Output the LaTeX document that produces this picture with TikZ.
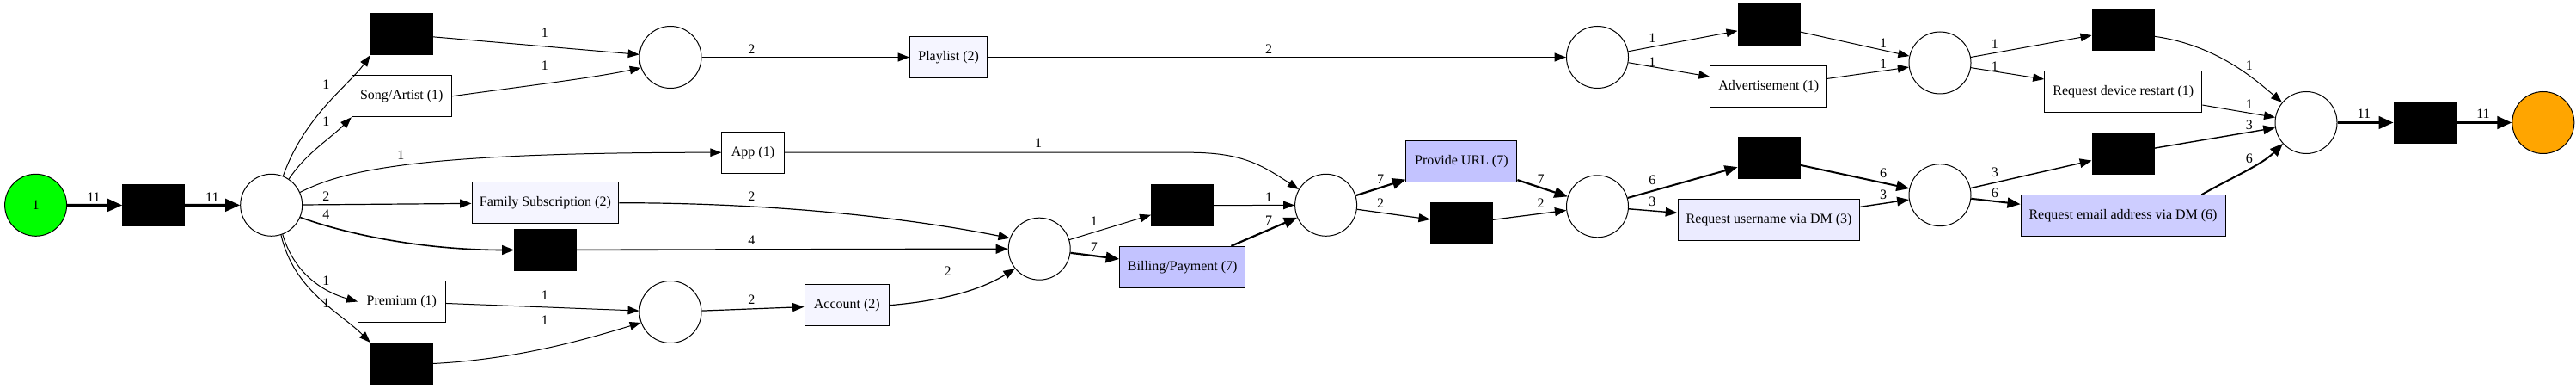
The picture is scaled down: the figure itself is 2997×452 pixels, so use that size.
\documentclass[tikz,border=0pt]{standalone}
\usepackage{fontspec}
\setmainfont{Liberation Serif}
\usetikzlibrary{arrows.meta}
\definecolor{srcgreen}{RGB}{0,255,0}
\definecolor{sinkorange}{RGB}{255,165,0}
\definecolor{fqtwo}{HTML}{F5F5FF}
\definecolor{fqthree}{HTML}{EBEBFF}
\definecolor{fqsix}{HTML}{CDCDFF}
\definecolor{fqseven}{HTML}{C3C3FF}
\begin{document}
\begin{tikzpicture}[x=1pt,y=1pt,font=\fontsize{16}{19}\selectfont,
  place/.style={circle,draw=black,line width=1pt,minimum size=72pt,inner sep=0pt},
  silent/.style={rectangle,draw=black,fill=black,line width=1pt,minimum width=72pt,minimum height=48pt,inner sep=0pt},
  act/.style={rectangle,draw=black,line width=1pt,minimum height=48pt,inner sep=0pt},
  lbl/.style={inner sep=0pt},
  flow/.style={-{Triangle[length=11pt 2,width=7pt 2.5]},line width=#1},
  flow/.default=1pt]
\useasboundingbox (0,0) rectangle (2997,452);

% places
\node[place,fill=srcgreen] (src) at (41.6,213.7) {1};
\node[place] (p1) at (315.7,213.7) {};
\node[place] (p2) at (780,385.5) {};
\node[place] (p3) at (780,89.5) {};
\node[place] (p4) at (1209.2,162.8) {};
\node[place] (p5) at (1542.6,213.7) {};
\node[place] (p6) at (1858.5,212.2) {};
\node[place] (ptop) at (1858.5,385.5) {};
\node[place] (p7) at (2257,379) {};
\node[place] (p8) at (2257,225.3) {};
\node[place] (p9) at (2683,309.5) {};
\node[place,fill=sinkorange] (sink) at (2958.8,309.5) {};

% silent transitions
\node[silent] (t0) at (178.7,213.5) {};
\node[silent] (ta) at (467.3,412.3) {};
\node[silent] (tb) at (634.7,161.5) {};
\node[silent] (tc) at (467.3,29.5) {};
\node[silent] (td) at (1375.6,213.3) {};
\node[silent] (te) at (1700.4,192) {};
\node[silent] (tf) at (2058,268) {};
\node[silent] (tg) at (2058,423) {};
\node[silent] (th) at (2470,417.5) {};
\node[silent] (ti) at (2470,273.7) {};
\node[silent] (tj) at (2821,309.5) {};

% visible transitions
\node[act,minimum width=115.8pt] (song) at (467.3,340.2) {Song/Artist (1)};
\node[act,minimum width=72.2pt] (app) at (876,274.8) {App (1)};
\node[act,minimum width=170.8pt,fill=fqtwo] (fam) at (634.4,216.3) {Family Subscription (2)};
\node[act,minimum width=101.4pt] (prem) at (467.3,101.5) {Premium (1)};
\node[act,minimum width=90.4pt,fill=fqtwo] (playlist) at (1103.7,385.5) {Playlist (2)};
\node[act,minimum width=98.6pt,fill=fqtwo] (account) at (985.3,97.3) {Account (2)};
\node[act,minimum width=146.4pt,fill=fqseven] (billing) at (1375.7,141.7) {Billing/Payment (7)};
\node[act,minimum width=129.1pt,fill=fqseven] (url) at (1700.4,264.2) {Provide URL (7)};
\node[act,minimum width=211.9pt,fill=fqthree] (username) at (2058,196) {Request username via DM (3)};
\node[act,minimum width=135.8pt] (advert) at (2057.7,351) {Advertisement (1)};
\node[act,minimum width=183.2pt] (restart) at (2470.3,345.5) {Request device restart (1)};
\node[act,minimum width=238pt,fill=fqsix] (email) at (2470,201.3) {Request email address via DM (6)};

% arcs
\draw[flow=3pt] (src) -- (t0);
\draw[flow=3pt] (t0) -- (p1);
\draw[flow] (p1.68) .. controls +(25,70) and +(-25,-35) .. (ta.south west);
\draw[flow] (p1.56) .. controls +(20,30) and +(-25,-25) .. (song.south west);
\draw[flow] (p1.24) .. controls +(50,25) and +(-360,0) .. (app.west);
\draw[flow=1.2pt] (p1) -- (fam);
\draw[flow=1.6pt] (p1.-23) .. controls +(70,-25) and +(-90,0) .. (tb.west);
\draw[flow] (p1.-69) .. controls +(15,-50) and +(-35,10) .. (prem.west);
\draw[flow] (p1.-72) .. controls +(15,-65) and +(-35,35) .. (tc.north west);
\draw[flow] (ta) -- (p2);
\draw[flow] (song.east) .. controls +(110,15) and +(-60,-12) .. (p2.200);
\draw[flow] (prem) -- (p3);
\draw[flow] (tc.east) .. controls +(100,5) and +(-60,-18) .. (p3.200);
\draw[flow=1.2pt] (p2) -- (playlist);
\draw[flow=1.2pt] (playlist) -- (ptop);
\draw[flow] (app.east) -- ++(470,0) .. controls +(60,0) and +(-45,30) .. (p5.150);
\draw[flow=1.2pt] (fam.east) .. controls +(200,0) and +(-100,20) .. (p4.160);
\draw[flow=1.6pt] (tb) -- (p4);
\draw[flow=1.2pt] (p3) -- (account);
\draw[flow=1.2pt] (account.east) .. controls +(60,5) and +(-40,-25) .. (p4.219);
\draw[flow] (p4) -- (td);
\draw[flow=2.2pt] (p4) -- (billing);
\draw[flow] (td) -- (p5);
\draw[flow=2.2pt] (billing) -- (p5);
\draw[flow=2.2pt] (p5) -- (url);
\draw[flow=1.2pt] (p5) -- (te);
\draw[flow=2.2pt] (url) -- (p6);
\draw[flow=1.2pt] (te) -- (p6);
\draw[flow] (ptop) -- (tg);
\draw[flow] (ptop) -- (advert);
\draw[flow] (tg) -- (p7);
\draw[flow] (advert) -- (p7);
\draw[flow=2pt] (p6) -- (tf);
\draw[flow=1.4pt] (p6) -- (username);
\draw[flow=2pt] (tf) -- (p8);
\draw[flow=1.4pt] (username) -- (p8);
\draw[flow] (p7) -- (th);
\draw[flow] (p7) -- (restart);
\draw[flow] (th.-12) .. controls +(70,-10) and +(-35,30) .. (p9.140);
\draw[flow] (restart) -- (p9);
\draw[flow=1.4pt] (p8) -- (ti);
\draw[flow=2pt] (p8) -- (email);
\draw[flow=1.4pt] (ti) -- (p9);
\draw[flow=2pt] (email.15) .. controls +(35,20) and +(-25,-25) .. (p9.222);
\draw[flow=3pt] (p9) -- (tj);
\draw[flow=3pt] (tj) -- (sink);

% arc labels
\node[lbl] (l1) at (109,223) {11};
\node[lbl] (l2) at (246.8,223) {11};
\node[lbl] (l3) at (379.3,353.7) {1};
\node[lbl] (l4) at (379.3,310.3) {1};
\node[lbl] (l5) at (466.3,272) {1};
\node[lbl] (l6) at (379.3,223.7) {2};
\node[lbl] (l7) at (379.3,202.7) {4};
\node[lbl] (l8) at (379.3,126) {1};
\node[lbl] (l9) at (379.3,99.3) {1};
\node[lbl] (l10) at (633.8,413.7) {1};
\node[lbl] (l11) at (633.8,376) {1};
\node[lbl] (l12) at (633.8,108.7) {1};
\node[lbl] (l13) at (633.8,79.3) {1};
\node[lbl] (l14) at (874.4,394.7) {2};
\node[lbl] (l15) at (1476,394.7) {2};
\node[lbl] (l16) at (1208.2,285.3) {1};
\node[lbl] (l17) at (874.4,223.7) {2};
\node[lbl] (l18) at (874.4,172.7) {4};
\node[lbl] (l19) at (874.4,103.7) {2};
\node[lbl] (l20) at (1102.5,137) {2};
\node[lbl] (l21) at (1272.8,194.3) {1};
\node[lbl] (l22) at (1272.8,164.7) {7};
\node[lbl] (l23) at (1476,223) {1};
\node[lbl] (l24) at (1476,196) {7};
\node[lbl] (l25) at (1606.2,243.7) {7};
\node[lbl] (l26) at (1606.2,215.3) {2};
\node[lbl] (l27) at (1792.7,243.7) {7};
\node[lbl] (l28) at (1792.7,215.3) {2};
\node[lbl] (l29) at (1922.3,407.7) {1};
\node[lbl] (l30) at (1922.3,379.3) {1};
\node[lbl] (l31) at (2191.1,401.3) {1};
\node[lbl] (l32) at (2191.1,378) {1};
\node[lbl] (l33) at (1922.3,243) {6};
\node[lbl] (l34) at (1922.3,217.7) {3};
\node[lbl] (l35) at (2191.1,250.3) {6};
\node[lbl] (l36) at (2191.1,226) {3};
\node[lbl] (l37) at (2320.8,400.3) {1};
\node[lbl] (l38) at (2320.8,374.3) {1};
\node[lbl] (l39) at (2616.9,375.3) {1};
\node[lbl] (l40) at (2616.9,330.3) {1};
\node[lbl] (l41) at (2320.8,251.3) {3};
\node[lbl] (l42) at (2320.8,228) {6};
\node[lbl] (l43) at (2616.9,307) {3};
\node[lbl] (l44) at (2616.9,267.7) {6};
\node[lbl] (l45) at (2750.3,319.3) {11};
\node[lbl] (l46) at (2889,319.3) {11};
\end{tikzpicture}
\end{document}
